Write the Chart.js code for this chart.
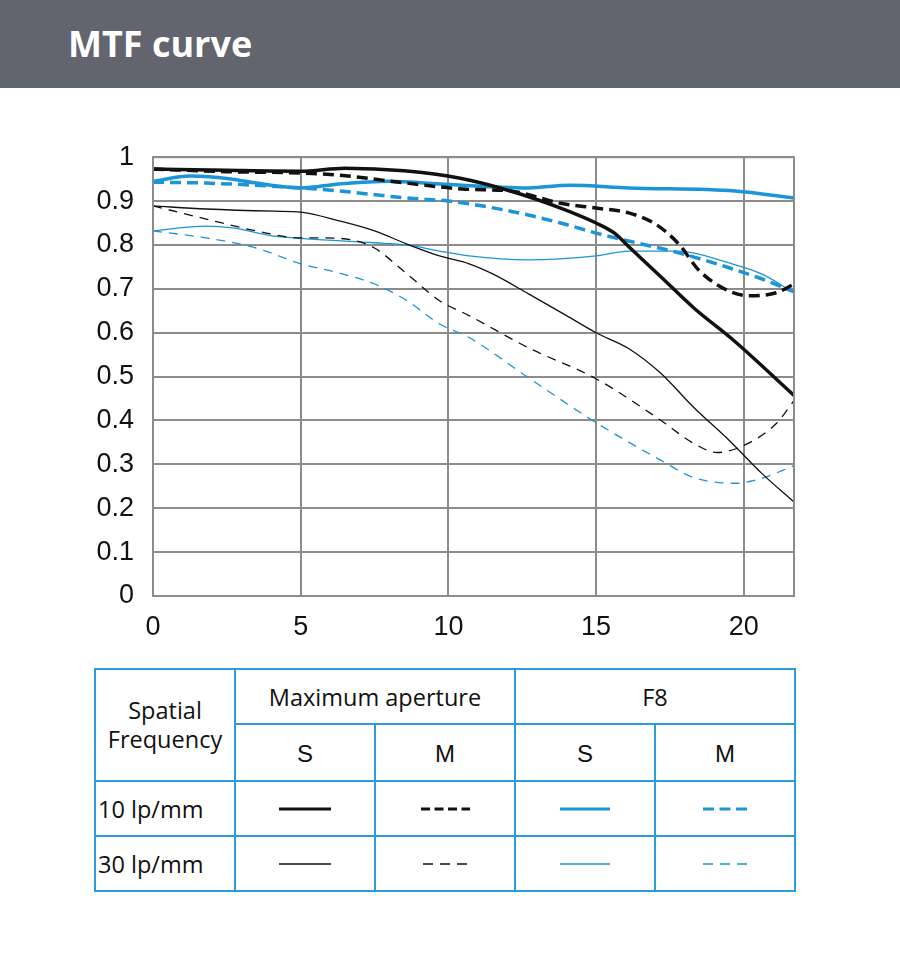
<!DOCTYPE html>
<html lang="en">
<head>
    <meta charset="UTF-8">
    <title>MTF curve</title>
    <script src="https://cdn.jsdelivr.net/npm/chart.js"></script>
    <style>
        body { margin: 0; width: 900px; height: 970px; background: #fff; position: relative; font-family: "Open Sans", "Noto Sans", sans-serif; }
        .header { position: absolute; left: 0; top: 0; width: 900px; height: 88px; background: #62646e; }
        .header h1 { margin: 0; position: absolute; left: 68px; top: 19px; color: #fff; font-size: 36px; font-weight: 700; line-height: 50px; }
        .chart-box { position: absolute; left: 0; top: 122px; width: 810px; height: 538px; }
        table { position: absolute; left: 94px; top: 668px; width: 702px; table-layout: fixed; border-collapse: collapse; font-size: 23.5px; color: #111; }
        td { border: 2px solid #2b9bd9; height: 53px; text-align: center; padding: 0; }
        td.left { text-align: left; padding-left: 2px; }
        td.freq { line-height: 29px; }
        td.sm { font-family: "Liberation Sans", Arial, sans-serif; font-size: 24px; padding-top: 2px; }
        svg { display: block; margin: auto; }
    </style>
</head>
<body>
<div class="header"><h1>MTF curve</h1></div>
<div class="chart-box"><canvas id="mtf"></canvas></div>

<table>
    <tr>
        <td class="freq" rowspan="2">Spatial<br>Frequency</td>
        <td colspan="2">Maximum aperture</td>
        <td colspan="2">F8</td>
    </tr>
    <tr><td class="sm">S</td><td class="sm">M</td><td class="sm">S</td><td class="sm">M</td></tr>
    <tr>
        <td class="left">10 lp/mm</td>
        <td><svg width="52" height="6"><line x1="0" y1="3" x2="52" y2="3" stroke="#111" stroke-width="3"/></svg></td>
        <td><svg width="50" height="6"><line x1="1" y1="3" x2="50" y2="3" stroke="#111" stroke-width="3" stroke-dasharray="9,4.5"/></svg></td>
        <td><svg width="50" height="6"><line x1="0" y1="3" x2="50" y2="3" stroke="#1b95d8" stroke-width="3"/></svg></td>
        <td><svg width="44" height="6"><line x1="0" y1="3" x2="44" y2="3" stroke="#1b95d8" stroke-width="3" stroke-dasharray="11,5.5"/></svg></td>
    </tr>
    <tr>
        <td class="left">30 lp/mm</td>
        <td><svg width="52" height="6"><line x1="0" y1="3" x2="52" y2="3" stroke="#111" stroke-width="1.3"/></svg></td>
        <td><svg width="44" height="6"><line x1="0" y1="3" x2="44" y2="3" stroke="#111" stroke-width="1.3" stroke-dasharray="10,7"/></svg></td>
        <td><svg width="50" height="6"><line x1="0" y1="3" x2="50" y2="3" stroke="#1b95d8" stroke-width="1.3"/></svg></td>
        <td><svg width="44" height="6"><line x1="0" y1="3" x2="44" y2="3" stroke="#1b95d8" stroke-width="1.3" stroke-dasharray="10,7"/></svg></td>
    </tr>
</table>

<script>
    // x = distance from centre (mm), y = MTF
    const maxS10X = [0, 2.5, 5, 6.5, 8.5, 10.4, 12.1, 13.8, 15, 15.6, 16.2, 17.2, 18.3, 19.7, 21.7];
    const maxS10Y = [0.973, 0.970, 0.968, 0.975, 0.969, 0.952, 0.923, 0.884, 0.85, 0.828, 0.79, 0.727, 0.657, 0.58, 0.457];

    const maxM10X = [0, 2.5, 5, 6.3, 8.6, 10.6, 12.1, 13.8, 15, 16.1, 17, 17.8, 18.5, 19.5, 20.2, 21.1, 21.7];
    const maxM10Y = [0.973, 0.967, 0.964, 0.959, 0.941, 0.927, 0.923, 0.895, 0.884, 0.873, 0.848, 0.802, 0.741, 0.695, 0.684, 0.691, 0.711];

    const f8S10X = [0, 1.25, 2.7, 3.5, 5, 6.3, 8, 9.7, 12.7, 14.1, 16.1, 19.7, 21.7];
    const f8S10Y = [0.945, 0.957, 0.95, 0.941, 0.93, 0.939, 0.945, 0.939, 0.93, 0.936, 0.93, 0.923, 0.907];

    const f8M10X = [0, 1.8, 5, 6.3, 8.6, 10, 12.1, 13.8, 15, 16.1, 17.8, 19.5, 20.6, 21.7];
    const f8M10Y = [0.943, 0.941, 0.93, 0.923, 0.907, 0.9, 0.877, 0.85, 0.827, 0.809, 0.782, 0.748, 0.723, 0.693];

    const maxS30X = [0, 1.8, 4.1, 5, 6.3, 7.5, 8.6, 9.7, 10.7, 11.5, 12.7, 14, 15, 16.1, 17.2, 18.3, 19.5, 20.6, 21.7];
    const maxS30Y = [0.889, 0.882, 0.877, 0.875, 0.855, 0.832, 0.802, 0.775, 0.757, 0.734, 0.689, 0.639, 0.6, 0.564, 0.507, 0.43, 0.355, 0.28, 0.214];

    const maxM30X = [0, 1.8, 3.5, 5, 5.9, 6.9, 7.5, 8.6, 9.7, 10.7, 12.7, 15, 17.2, 18.3, 19.1, 20, 21.1, 21.7];
    const maxM30Y = [0.889, 0.859, 0.832, 0.816, 0.816, 0.809, 0.793, 0.734, 0.673, 0.639, 0.566, 0.495, 0.4, 0.348, 0.327, 0.343, 0.393, 0.445];

    const f8S30X = [0, 1.8, 2.7, 4.1, 5.2, 7.5, 8.6, 9.7, 10.7, 12.7, 15, 16.1, 17.8, 19.5, 20.6, 21.7];
    const f8S30Y = [0.832, 0.843, 0.839, 0.82, 0.814, 0.805, 0.8, 0.786, 0.775, 0.766, 0.775, 0.786, 0.786, 0.759, 0.734, 0.691];

    const f8M30X = [0, 1.8, 3.5, 5, 6.3, 7.5, 8.6, 9.7, 10.7, 12.7, 15, 17.2, 18.3, 19.7, 20.6, 21.7];
    const f8M30Y = [0.832, 0.816, 0.793, 0.757, 0.736, 0.711, 0.673, 0.62, 0.589, 0.498, 0.395, 0.309, 0.27, 0.257, 0.268, 0.297];

    const xTicks = [0, 5, 10, 15, 20];
    const yTicks = [0, 0.1, 0.2, 0.3, 0.4, 0.5, 0.6, 0.7, 0.8, 0.9, 1];

    const BLACK = '#111111';
    const BLUE = '#1b95d8';
    const GRID = '#8c8c8c';

    function pts(xs, ys) {
        return xs.map((x, i) => ({ x: x, y: ys[i] }));
    }

    function series(label, xs, ys, color, width, dash, order) {
        return {
            label, data: pts(xs, ys),
            borderColor: color, borderWidth: width, borderDash: dash,
            pointRadius: 0, fill: false, cubicInterpolationMode: 'monotone', order
        };
    }

    // outer frame of the plot area
    const frame = {
        id: 'frame',
        afterDatasetsDraw(chart) {
            const a = chart.chartArea, ctx = chart.ctx;
            ctx.save();
            ctx.strokeStyle = GRID;
            ctx.lineWidth = 2;
            ctx.strokeRect(a.left, a.top, a.right - a.left, a.bottom - a.top);
            ctx.restore();
        }
    };

    const tickFont = { family: 'Liberation Sans, Arial', size: 27 };

    new Chart(document.getElementById('mtf'), {
        type: 'line',
        data: {
            datasets: [
                series('Max S 10', maxS10X, maxS10Y, BLACK, 3.5, [], 1),
                series('Max M 10', maxM10X, maxM10Y, BLACK, 3.5, [11, 6], 2),
                series('F8 S 10', f8S10X, f8S10Y, BLUE, 3.5, [], 3),
                series('F8 M 10', f8M10X, f8M10Y, BLUE, 3.5, [11, 6], 4),
                series('Max S 30', maxS30X, maxS30Y, BLACK, 1.3, [], 5),
                series('Max M 30', maxM30X, maxM30Y, BLACK, 1.3, [9, 7], 6),
                series('F8 S 30', f8S30X, f8S30Y, BLUE, 1.3, [], 7),
                series('F8 M 30', f8M30X, f8M30Y, BLUE, 1.3, [9, 7], 8)
            ]
        },
        options: {
            responsive: true,
            maintainAspectRatio: false,
            animation: false,
            layout: { padding: { top: 15.5, right: 16, left: 0, bottom: 0 } },
            plugins: { legend: { display: false }, tooltip: { enabled: false } },
            scales: {
                x: {
                    type: 'linear', min: 0, max: 21.7,
                    afterBuildTicks: s => { s.ticks = xTicks.map(v => ({ value: v })); },
                    afterFit: s => { s.height = 64; },
                    grid: { color: GRID, lineWidth: 2, drawTicks: false },
                    border: { display: false },
                    ticks: { color: '#111', padding: 15, font: tickFont }
                },
                y: {
                    min: 0, max: 1,
                    afterBuildTicks: s => { s.ticks = yTicks.map(v => ({ value: v })); },
                    afterFit: s => { s.width = 153; },
                    grid: { color: GRID, lineWidth: 2, drawTicks: false },
                    border: { display: false },
                    ticks: {
                        color: '#111', padding: 19,
                        font: tickFont,
                        callback: v => v === 0 || v === 1 ? String(v) : v.toFixed(1)
                    }
                }
            }
        },
        plugins: [frame]
    });
</script>
</body>
</html>
